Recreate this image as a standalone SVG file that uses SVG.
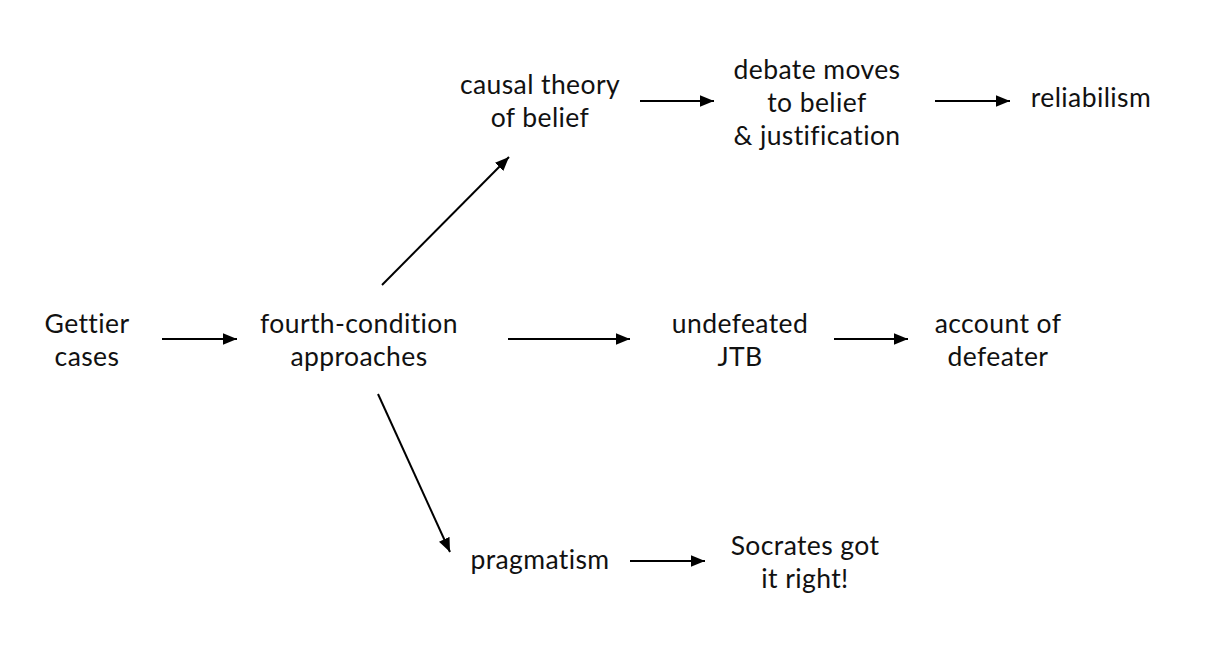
<svg xmlns="http://www.w3.org/2000/svg" width="1232" height="646" viewBox="0 0 1232 646">
<style>
text{font-family:Lato,"Open Sans",sans-serif;font-size:26.5px;letter-spacing:0.4px;fill:#111;text-anchor:middle}
.c{stroke:#000;stroke-width:2;fill:none;marker-end:url(#ah)}
</style>
<defs>
<marker id="ah" markerUnits="userSpaceOnUse" markerWidth="14" markerHeight="12" refX="12" refY="5" orient="auto" viewBox="0 0 12 10">
<path d="M0,0 L12,5 L0,10 Z" fill="#000"/>
</marker>
</defs>
<rect width="1232" height="646" fill="#fff"/>
<g id="connectors">
<line class="c" x1="162" y1="339" x2="237" y2="339"/>
<line class="c" x1="382" y1="285" x2="509" y2="157"/>
<line class="c" x1="508" y1="339" x2="630" y2="339"/>
<line class="c" x1="378" y1="394" x2="450" y2="552"/>
<line class="c" x1="640" y1="101" x2="714" y2="101"/>
<line class="c" x1="935" y1="101" x2="1010" y2="101"/>
<line class="c" x1="834" y1="339" x2="908" y2="339"/>
<line class="c" x1="630" y1="561" x2="705" y2="561"/>
</g>
<g id="gettier"><text x="87" y="333">Gettier</text><text x="87" y="366">cases</text></g>
<g id="fourth"><text x="359" y="333">fourth-condition</text><text x="359" y="366">approaches</text></g>
<g id="causal"><text x="540" y="94">causal theory</text><text x="540" y="127">of belief</text></g>
<g id="debate"><text x="817" y="79">debate moves</text><text x="817" y="112">to belief</text><text x="817" y="145">&amp; justification</text></g>
<g id="reliabilism"><text x="1091" y="107">reliabilism</text></g>
<g id="undefeated"><text x="740" y="333">undefeated</text><text x="740" y="366">JTB</text></g>
<g id="account"><text x="998" y="333">account of</text><text x="998" y="366">defeater</text></g>
<g id="pragmatism"><text x="540" y="569">pragmatism</text></g>
<g id="socrates"><text x="805" y="555">Socrates got</text><text x="805" y="588">it right!</text></g>
</svg>
